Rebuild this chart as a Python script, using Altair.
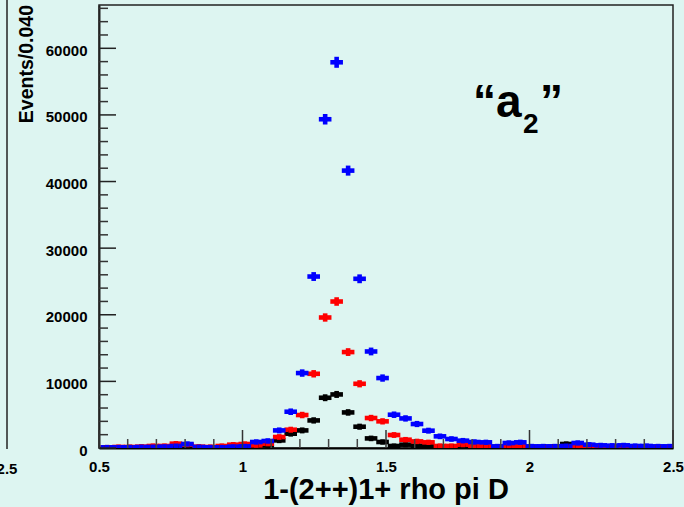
import altair as alt
import pandas as pd

# ---------------- data ----------------
bin_centers = [0.528, 0.568, 0.608, 0.648, 0.688, 0.728, 0.768, 0.808, 0.848, 0.888,
               0.928, 0.968, 1.008, 1.048, 1.088, 1.128, 1.168, 1.208, 1.248, 1.288,
               1.328, 1.368, 1.408, 1.448, 1.488, 1.528, 1.568, 1.608, 1.648, 1.688,
               1.728, 1.768, 1.808, 1.848, 1.888, 1.928, 1.968, 2.008, 2.048, 2.088,
               2.128, 2.168, 2.208, 2.248, 2.288, 2.328, 2.368, 2.408, 2.448, 2.488]

blue_counts = [100, 100, 100, 150, 150, 200, 300, 600, 150, 100,
               100, 200, 250, 900, 1050, 2640, 5445, 11250, 25740, 49350,
               57900, 41640, 25400, 14490, 10500, 4995, 4440, 3600, 2600, 1750,
               1350, 1100, 900, 850, 250, 750, 850, 250, 250, 250,
               300, 750, 500, 400, 350, 400, 300, 300, 250, 250]

red_counts = [100, 150, 150, 200, 300, 300, 650, 500, 200, 150,
              300, 500, 600, 400, 650, 1650, 2745, 4950, 11140, 19590,
              21990, 14400, 9640, 4500, 4000, 1950, 1245, 990, 850, 300,
              300, 500, 250, 250, 100, 300, 250, 100, 100, 150,
              150, 250, 200, 150, 150, 100, 100, 100, 100, 100]

black_counts = [50, 50, 100, 100, 150, 150, 200, 300, 100, 100,
                100, 150, 150, 250, 400, 1140, 2145, 2640, 4140, 7545,
                8040, 5340, 3195, 1440, 900, 300, 500, 350, 250, 200,
                200, 150, 150, 150, 100, 100, 100, 100, 150, 200,
                600, 150, 100, 100, 100, 50, 50, 50, 50, 50]

series_names = ["black", "red", "blue"]
series_colors = ["#000000", "#ff0000", "#0000ff"]

x_label_values = [0.5, 1, 1.5, 2, 2.5]
x_minor_ticks = [0.6, 0.7, 0.8, 0.9, 1.1, 1.2, 1.3, 1.4, 1.6, 1.7, 1.8, 1.9,
                 2.1, 2.2, 2.3, 2.4]
y_label_values = [0, 10000, 20000, 30000, 40000, 50000, 60000]
y_minor_ticks = [2000, 4000, 6000, 8000, 12000, 14000, 16000, 18000,
                 22000, 24000, 26000, 28000, 32000, 34000, 36000, 38000,
                 42000, 44000, 46000, 48000, 52000, 54000, 56000, 58000,
                 62000, 64000, 66000]

x_title = "1-(2++)1+ rho pi D"
y_title = "Events/0.040"

# ---------------- build table ----------------
rows = []
for name, vals in zip(series_names, [black_counts, red_counts, blue_counts]):
    for c, v in zip(bin_centers, vals):
        rows.append({"series": name, "x": c, "v": v})
df = pd.DataFrame(rows)

BG = "#ddf5f1"
FONT = "Liberation Sans"
W, H = 574, 443

xscale = alt.Scale(domain=[0.5, 2.5], nice=False, zero=False)
yscale = alt.Scale(domain=[0, 66500], nice=False, zero=False)
cscale = alt.Scale(domain=series_names, range=series_colors)

xaxis = alt.Axis(values=x_label_values, format="~g", ticks=False, grid=False,
                 domainColor="#000000", domainWidth=2,
                 labelFont=FONT, labelFontWeight="bold", labelFontSize=15,
                 labelColor="#000000", labelPadding=11, labelFlush=False,
                 title=None)
yaxis = alt.Axis(values=y_label_values, format="d", ticks=False, grid=False,
                 domainColor="#222222", domainWidth=2,
                 labelFont=FONT, labelFontWeight="bold", labelFontSize=15,
                 labelColor="#000000", labelPadding=12, labelOffset=2,
                 title=None)

base = alt.Chart(df).transform_calculate(
    x0="datum.x - 0.022",
    x1="datum.x + 0.022",
    lo="datum.v - 2*sqrt(datum.v)",
    hi="datum.v + 2*sqrt(datum.v)",
)

hbars = base.mark_rule(strokeWidth=4.6, strokeCap="butt", clip=True).encode(
    x=alt.X("x0:Q", scale=xscale, axis=xaxis, title=None),
    x2="x1:Q",
    y=alt.Y("v:Q", scale=yscale, axis=yaxis, title=None),
    color=alt.Color("series:N", scale=cscale, legend=None),
)

vbars = base.mark_rule(strokeWidth=4.6, strokeCap="square", clip=True).encode(
    x=alt.X("x:Q", scale=xscale, axis=xaxis, title=None),
    y=alt.Y("lo:Q", scale=yscale, axis=yaxis, title=None),
    y2="hi:Q",
    color=alt.Color("series:N", scale=cscale, legend=None),
)

# inward tick marks
ymaj = alt.Chart(pd.DataFrame({"t": y_label_values})).mark_rule(
    color="#222222", strokeWidth=1.5).encode(
    y=alt.Y("t:Q", scale=yscale, axis=yaxis, title=None),
    x=alt.value(0), x2=alt.value(17))
ymin = alt.Chart(pd.DataFrame({"t": y_minor_ticks})).mark_rule(
    color="#333333", strokeWidth=1.5).encode(
    y=alt.Y("t:Q", scale=yscale, axis=yaxis, title=None),
    x=alt.value(0), x2=alt.value(9))
xmaj = alt.Chart(pd.DataFrame({"t": x_label_values})).mark_rule(
    color="#333333", strokeWidth=1.5).encode(
    x=alt.X("t:Q", scale=xscale, axis=xaxis, title=None),
    y=alt.value(H), y2=alt.value(H - 18))
xmin = alt.Chart(pd.DataFrame({"t": x_minor_ticks})).mark_rule(
    color="#444444", strokeWidth=1.5).encode(
    x=alt.X("t:Q", scale=xscale, axis=xaxis, title=None),
    y=alt.value(H), y2=alt.value(H - 9))

one = alt.Data(values=[{"k": 1}])

def label(txt, x, y, size, align="left", baseline="alphabetic", angle=0):
    kw = dict(font=FONT, fontWeight="bold", fontSize=size, align=align,
              baseline=baseline, color="#000000")
    if angle:
        kw["angle"] = angle
    return alt.Chart(one).mark_text(**kw).encode(
        x=alt.value(x), y=alt.value(y), text=alt.value(txt))

xt = label(x_title, 287, 494, 29, align="center")
yt = label(y_title, -72, 0, 19.5, align="right", baseline="middle", angle=270)
a_open = label("\u201ca", 374, 112, 46)
a_sub = label("2", 424, 128, 28)
a_close = label("\u201d", 441, 112, 46)

# neighbouring (cropped) panel remnant on the left
left_frame = alt.Chart(one).mark_rule(color="#222222", strokeWidth=1.5).encode(
    x=alt.value(-92), y=alt.value(-6), y2=alt.value(H + 1))
left_lab = label("2.5", -92, 469, 15, align="center")

chart = alt.layer(
    hbars, vbars, ymaj, ymin, xmaj, xmin, xt, yt, a_open, a_sub, a_close,
    left_frame, left_lab
).properties(
    width=W, height=H,
    autosize=alt.AutoSizeParams(type="none"),
    padding={"left": 99, "top": 5, "right": 11, "bottom": 59},
    background=BG,
).configure_view(
    stroke="#222222", strokeWidth=1.5, fill=BG
)

chart.save("out.html", embed_options={"renderer": "svg", "actions": False})
